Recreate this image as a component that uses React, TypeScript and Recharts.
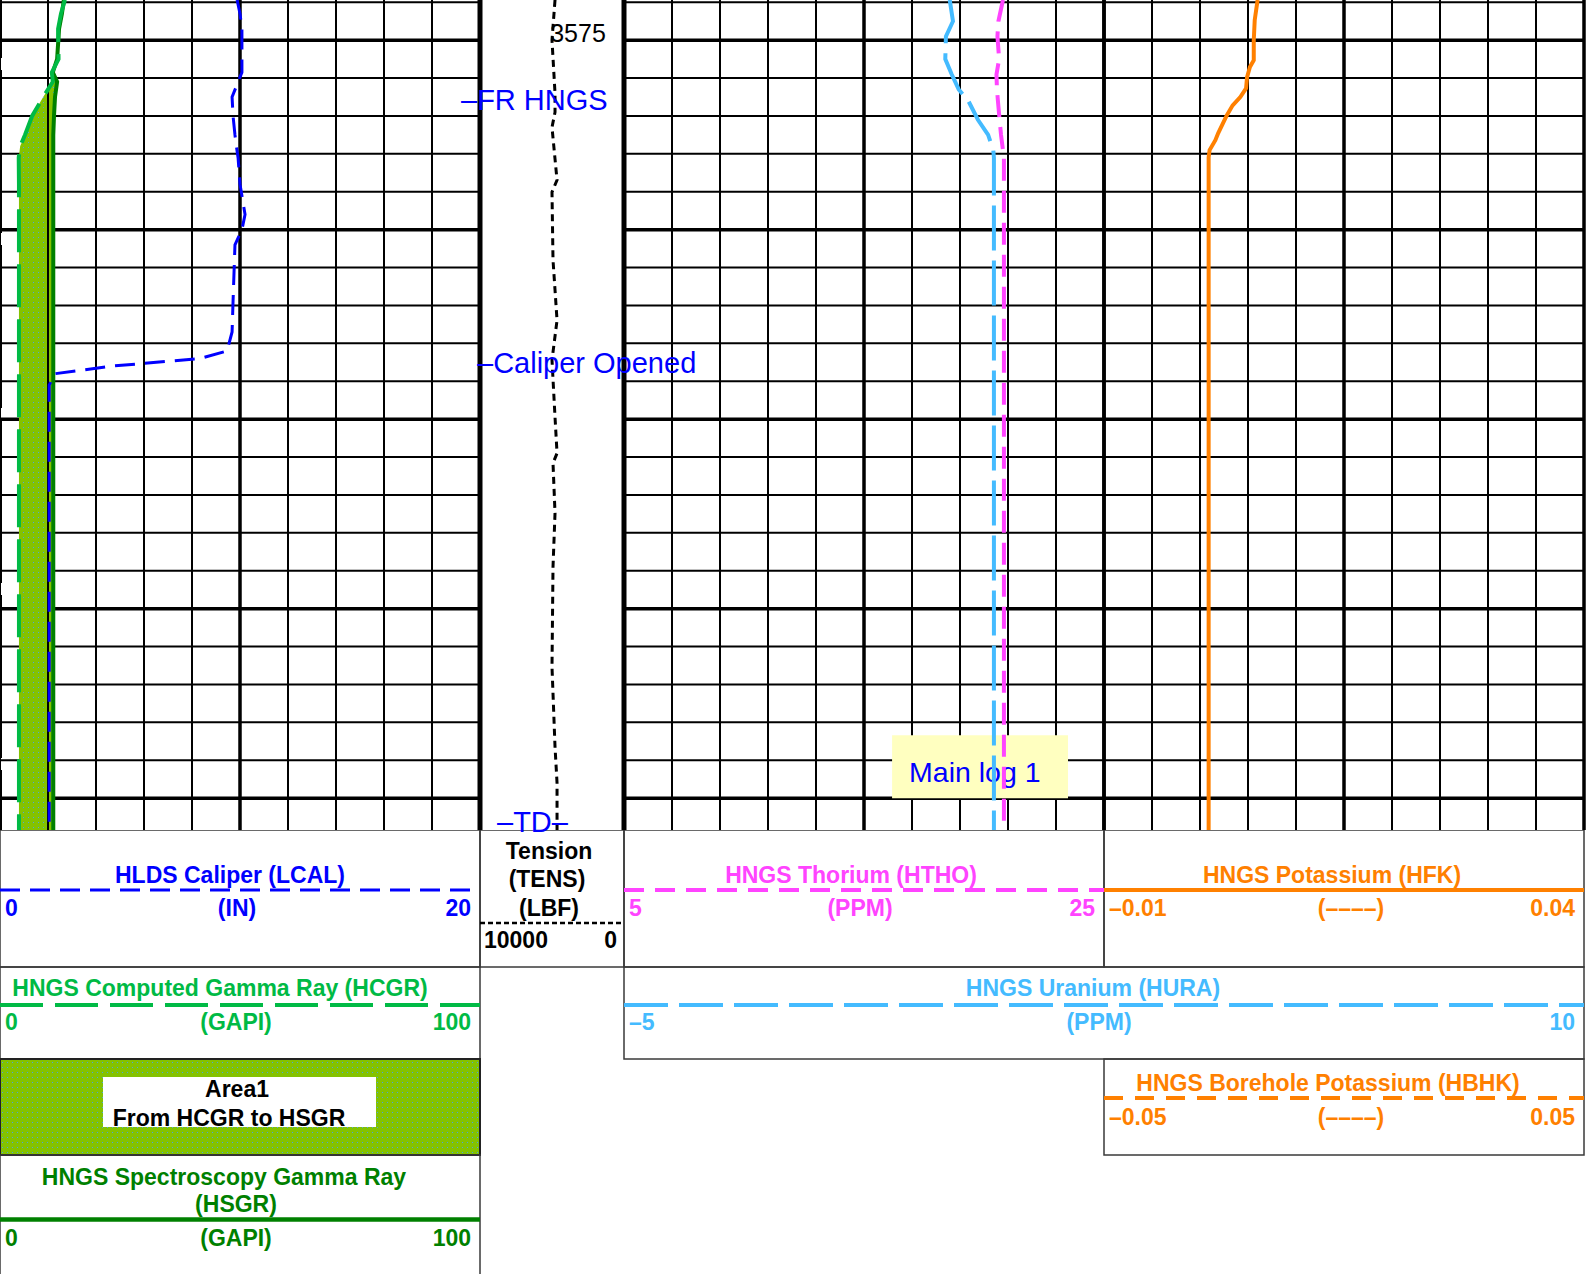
import { ComposedChart, Line, Area, XAxis, YAxis, CartesianGrid, ReferenceLine, ReferenceArea } from 'recharts'

// depth window of the log body (ft)
const depthTop = 3573.94
const depthBottom = 3595.84
const depthTicks = [3574, 3575, 3576, 3577, 3578, 3579, 3580, 3581, 3582, 3583, 3584, 3585, 3586, 3587, 3588, 3589, 3590, 3591, 3592, 3593, 3594, 3595]
const depthMajorTicks = [3575, 3580, 3585, 3590, 3595]
const depthLabels = [3575]

// curve scales (left, right) as printed in the header
const lcalScale = [0, 20]
const hcgrScale = [0, 100]
const hsgrScale = [0, 100]
const tensScale = [10000, 0]
const hthoScale = [5, 25]
const huraScale = [-5, 10]
const hfkScale = [-0.01, 0.04]
const hbhkScale = [-0.05, 0.05]

// vertical grid divisions per track
const track1Ticks = [0, 2, 4, 6, 8, 10, 12, 14, 16, 18, 20]
const track1Major = [10, 20]
const track2Ticks = [5, 7, 9, 11, 13, 15, 17, 19, 21, 23, 25]
const track2Major = [5, 15, 25]
const track3Ticks = [-0.01, -0.005, 0, 0.005, 0.01, 0.015, 0.02, 0.025, 0.03, 0.035, 0.04]
const track3Major = [-0.01, 0.015, 0.04]

// track 1: caliper and gamma rays
const track1Depth = [3573.94, 3574.3, 3574.7, 3575.5, 3575.85, 3576.1, 3576.5, 3577.0, 3577.5, 3577.8, 3578.1, 3578.8, 3579.6, 3580.0, 3580.4, 3581.9, 3582.7, 3583.2, 3583.4, 3583.6, 3583.8, 3584.1, 3595.84]
const lcal = [9.88, 10.0, 10.08, 10.08, 10.08, 9.92, 9.67, 9.71, 9.79, 9.85, 9.92, 10.0, 10.21, 10.08, 9.79, 9.71, 9.67, 9.46, 8.33, 4.67, 2.29, 2.05, 2.05]
const hcgr = [13.54, 12.7, 12.1, 12.2, 10.8, 11.0, 9.0, 6.7, 5.2, 4.2, 3.9, 3.95, 3.95, 3.95, 3.95, 3.95, 3.95, 3.95, 3.95, 3.95, 3.95, 3.95, 3.95]
const hsgr = [13.3, 12.9, 12.3, 11.9, 11.0, 11.9, 11.46, 11.25, 11.1, 11.1, 11.1, 11.1, 11.1, 11.1, 11.1, 11.1, 11.1, 11.1, 11.1, 11.1, 11.1, 11.1, 11.1]

// depth track: cable tension
const tensDepth = [3573.94, 3575.0, 3576.4, 3576.9, 3577.3, 3578.69, 3579.01, 3580.8, 3582.39, 3583.44, 3584.95, 3585.9, 3586.16, 3587.48, 3588.9, 3591.54, 3593.65, 3594.6, 3595.84]
const tens = [4790, 5000, 4790, 4790, 5000, 4650, 5000, 4930, 4650, 5000, 4790, 4650, 4930, 4790, 4930, 5000, 4790, 4650, 4650]

// track 2: thorium and uranium
const track2Depth = [3573.94, 3574.5, 3574.9, 3575.5, 3575.9, 3576.3, 3576.6, 3577.1, 3577.5, 3577.9, 3578.1, 3595.84]
const hura = [0.09, 0.14, 0.03, 0.02, 0.12, 0.23, 0.38, 0.53, 0.69, 0.77, 0.78, 0.78]
const htho = [20.79, 20.6, 20.56, 20.63, 20.52, 20.54, 20.58, 20.65, 20.71, 20.79, 20.83, 20.83]

// track 3: potassium
const track3Depth = [3573.94, 3574.47, 3575.0, 3575.53, 3575.71, 3575.98, 3576.27, 3576.5, 3576.72, 3576.98, 3577.24, 3577.45, 3577.64, 3577.9, 3578.09, 3595.84]
const hfk = [0.006, 0.0057, 0.0056, 0.0056, 0.0052, 0.0049, 0.0048, 0.0042, 0.0034, 0.0028, 0.0023, 0.0019, 0.0016, 0.001, 0.0009, 0.0009]

// depth annotations
const markerDepths = [3576.6, 3583.55, 3595.66]
const markerTexts = ['\u2013FR HNGS', '\u2013Caliper Opened', '\u2013TD\u2013']

// pass flag box (HTHO units across, depth down)
const mainLogX = [16.17, 23.5]
const mainLogDepth = [3593.34, 3595.0]
const mainLogText = 'Main log 1'

const PAD = 4
const PLOT_H = 830
const TRACK_W = 480
const DEPTH_W = 144
const FONT = '"Liberation Sans", Arial, Helvetica, sans-serif'
const BOX = '#3a3a3a'
const NO_UNIT = '(\u2013\u2013\u2013\u2013)'

const C = {
  lcal: '#0000ff',
  hcgr: '#00ba45',
  hsgr: '#008000',
  htho: '#ff44ff',
  hura: '#44bbff',
  hfk: '#ff8000',
  note: '#0000ff',
}

const fmt = (v: number) => String(v).replace('-', '\u2013')

const margin = { top: 0, right: PAD, bottom: 0, left: PAD }

const DotPattern = ({ id }: { id: string }) => (
  <pattern id={id} width={5} height={5} patternUnits="userSpaceOnUse">
    <rect width={5} height={5} fill="#84c200" />
    <rect x={2} y={2} width={1} height={1} fill="#4aa6e0" />
  </pattern>
)

function CaliperGammaTrack() {
  const data = track1Depth.map((depth, i) => ({
    depth,
    lcal: lcal[i],
    hcgr: hcgr[i],
    hsgr: hsgr[i],
    // shaded only where HCGR reads below HSGR
    area1: [Math.min(hcgr[i], hsgr[i]), hsgr[i]],
  }))
  return (
    <ComposedChart layout="vertical" width={TRACK_W + PAD * 2} height={PLOT_H} data={data} margin={margin}>
      <defs>
        <DotPattern id="area1Dots" />
      </defs>
      <XAxis xAxisId="in" type="number" domain={lcalScale} ticks={track1Ticks} interval={0} allowDataOverflow hide />
      <XAxis xAxisId="inMajor" type="number" domain={lcalScale} ticks={track1Major} interval={0} allowDataOverflow hide />
      <XAxis xAxisId="gapi" type="number" domain={hcgrScale} allowDataOverflow hide />
      <YAxis type="number" dataKey="depth" domain={[depthTop, depthBottom]} ticks={depthTicks} interval={0} allowDataOverflow hide />
      <YAxis yAxisId="major" type="number" dataKey="depth" domain={[depthTop, depthBottom]} ticks={depthMajorTicks} interval={0} allowDataOverflow hide />
      <CartesianGrid xAxisId="in" stroke="#000" strokeWidth={2} syncWithTicks />
      <CartesianGrid xAxisId="inMajor" yAxisId="major" stroke="#000" strokeWidth={3.5} syncWithTicks />
      <ReferenceLine xAxisId="in" x={0} stroke="#000" strokeWidth={4} strokeDasharray="163 12" strokeDashoffset={103} />
      <Area xAxisId="gapi" dataKey="area1" type="linear" stroke="none" fill="url(#area1Dots)" fillOpacity={1} dot={false} activeDot={false} isAnimationActive={false} />
      {/* first division line stays visible through the shading */}
      <ReferenceLine xAxisId="in" x={track1Ticks[1]} stroke="#000" strokeWidth={2} />
      <Line xAxisId="gapi" dataKey="hsgr" type="linear" stroke={C.hsgr} strokeWidth={4} dot={false} activeDot={false} isAnimationActive={false} />
      <Line xAxisId="gapi" dataKey="hcgr" type="linear" stroke={C.hcgr} strokeWidth={4} strokeDasharray="43 12" dot={false} activeDot={false} isAnimationActive={false} />
      <Line xAxisId="in" dataKey="lcal" type="linear" stroke={C.lcal} strokeWidth={3} strokeDasharray="20 10" dot={false} activeDot={false} isAnimationActive={false} />
    </ComposedChart>
  )
}

const depthNumber = (value: number) => (props: any) => {
  const vb = props.viewBox || {}
  return (
    <text x={vb.x + vb.width / 2 + 26} y={vb.y + 2} textAnchor="middle" fontFamily={FONT} fontSize={25} fill="#000">
      {value}
    </text>
  )
}

const markerOffsets = [-19, -3, 17]

const markerLabel = (text: string, dx: number) => (props: any) => {
  const vb = props.viewBox || {}
  return (
    <text x={vb.x + dx} y={vb.y + 9} fontFamily={FONT} fontSize={29} fill={C.note}>
      {text}
    </text>
  )
}

function DepthTrack() {
  const data = tensDepth.map((depth, i) => ({ depth, tens: tens[i] }))
  return (
    <ComposedChart layout="vertical" width={DEPTH_W + PAD * 2} height={PLOT_H} data={data} margin={margin}>
      <XAxis type="number" domain={[tensScale[1], tensScale[0]]} reversed ticks={tensScale} interval={0} allowDataOverflow hide />
      <YAxis type="number" dataKey="depth" domain={[depthTop, depthBottom]} allowDataOverflow hide />
      <CartesianGrid horizontal={false} stroke="#000" strokeWidth={5} syncWithTicks />
      <Line dataKey="tens" type="linear" stroke="#000" strokeWidth={3} strokeDasharray="7 5" dot={false} activeDot={false} isAnimationActive={false} />
      {depthLabels.map((d) => (
        <ReferenceLine key={`d${d}`} y={d} stroke="none" label={depthNumber(d)} />
      ))}
      {markerDepths.map((d, i) => (
        <ReferenceLine key={`m${i}`} y={d} stroke="none" label={markerLabel(markerTexts[i], markerOffsets[i])} />
      ))}
    </ComposedChart>
  )
}

const mainLogLabel = (props: any) => {
  const vb = props.viewBox || {}
  return (
    <text x={vb.x + 17} y={vb.y + 47} fontFamily={FONT} fontSize={28.5} fill={C.note}>
      {mainLogText}
    </text>
  )
}

function NuclearTrack() {
  const data = track2Depth.map((depth, i) => ({ depth, hura: hura[i], htho: htho[i] }))
  // HURA spans tracks 2 and 3; this track holds the left half of its scale
  const huraHalf = [huraScale[0], (huraScale[0] + huraScale[1]) / 2]
  return (
    <ComposedChart layout="vertical" width={TRACK_W + PAD * 2} height={PLOT_H} data={data} margin={margin}>
      <XAxis xAxisId="ppm" type="number" domain={hthoScale} ticks={track2Ticks} interval={0} allowDataOverflow hide />
      <XAxis xAxisId="ppmMajor" type="number" domain={hthoScale} ticks={track2Major} interval={0} allowDataOverflow hide />
      <XAxis xAxisId="hura" type="number" domain={huraHalf} allowDataOverflow hide />
      <YAxis type="number" dataKey="depth" domain={[depthTop, depthBottom]} ticks={depthTicks} interval={0} allowDataOverflow hide />
      <YAxis yAxisId="major" type="number" dataKey="depth" domain={[depthTop, depthBottom]} ticks={depthMajorTicks} interval={0} allowDataOverflow hide />
      <CartesianGrid xAxisId="ppm" stroke="#000" strokeWidth={2} syncWithTicks />
      <CartesianGrid xAxisId="ppmMajor" yAxisId="major" stroke="#000" strokeWidth={3.5} syncWithTicks />
      <ReferenceArea
        xAxisId="ppm"
        x1={mainLogX[0]}
        x2={mainLogX[1]}
        y1={mainLogDepth[0]}
        y2={mainLogDepth[1]}
        fill="#ffffc0"
        fillOpacity={1}
        stroke="none"
        label={mainLogLabel}
      />
      <Line xAxisId="hura" dataKey="hura" type="linear" stroke={C.hura} strokeWidth={4} strokeDasharray="45 10" dot={false} activeDot={false} isAnimationActive={false} />
      <Line xAxisId="ppm" dataKey="htho" type="linear" stroke={C.htho} strokeWidth={4} strokeDasharray="22 10" dot={false} activeDot={false} isAnimationActive={false} />
    </ComposedChart>
  )
}

function PotassiumTrack() {
  const data = track3Depth.map((depth, i) => ({ depth, hfk: hfk[i] }))
  return (
    <ComposedChart layout="vertical" width={TRACK_W + PAD * 2} height={PLOT_H} data={data} margin={margin}>
      <XAxis xAxisId="k" type="number" domain={hfkScale} ticks={track3Ticks} interval={0} allowDataOverflow hide />
      <XAxis xAxisId="kMajor" type="number" domain={hfkScale} ticks={track3Major} interval={0} allowDataOverflow hide />
      <YAxis type="number" dataKey="depth" domain={[depthTop, depthBottom]} ticks={depthTicks} interval={0} allowDataOverflow hide />
      <YAxis yAxisId="major" type="number" dataKey="depth" domain={[depthTop, depthBottom]} ticks={depthMajorTicks} interval={0} allowDataOverflow hide />
      <CartesianGrid xAxisId="k" stroke="#000" strokeWidth={2} syncWithTicks />
      <CartesianGrid xAxisId="kMajor" yAxisId="major" stroke="#000" strokeWidth={3.5} syncWithTicks />
      <Line xAxisId="k" dataKey="hfk" type="linear" stroke={C.hfk} strokeWidth={4} dot={false} activeDot={false} isAnimationActive={false} />
    </ComposedChart>
  )
}

type CaptionProps = { x: number; y: number; color: string; anchor?: 'start' | 'middle' | 'end'; children: any }

const Caption = ({ x, y, color, anchor = 'middle', children }: CaptionProps) => (
  <text x={x} y={y} fill={color} textAnchor={anchor} fontFamily={FONT} fontWeight="bold" fontSize={23}>
    {children}
  </text>
)

type ScaleProps = { x0: number; x1: number; mid: number; y: number; color: string; scale: number[]; unit: string }

const ScaleRow = ({ x0, x1, mid, y, color, scale, unit }: ScaleProps) => (
  <>
    <Caption x={x0 + 5} y={y} color={color} anchor="start">{fmt(scale[0])}</Caption>
    <Caption x={mid} y={y} color={color}>{unit}</Caption>
    <Caption x={x1 - 9} y={y} color={color} anchor="end">{fmt(scale[1])}</Caption>
  </>
)

function Header() {
  return (
    <svg width={1596} height={444} viewBox="0 830 1596 444" style={{ position: 'absolute', left: 0, top: 830 }}>
      <defs>
        <DotPattern id="area1DotsKey" />
      </defs>

      {/* row 1 */}
      <rect x={0} y={830} width={480} height={137} fill="none" stroke={BOX} strokeWidth={1.5} />
      <rect x={480} y={830} width={144} height={137} fill="none" stroke={BOX} strokeWidth={1.5} />
      <rect x={624} y={830} width={480} height={137} fill="none" stroke={BOX} strokeWidth={1.5} />
      <rect x={1104} y={830} width={480} height={137} fill="none" stroke={BOX} strokeWidth={1.5} />

      <line x1={0} x2={480} y1={890} y2={890} stroke={C.lcal} strokeWidth={3} strokeDasharray="20 10" />
      <Caption x={230} y={883} color={C.lcal}>HLDS Caliper (LCAL)</Caption>
      <ScaleRow x0={0} x1={480} mid={237} y={916} color={C.lcal} scale={lcalScale} unit="(IN)" />

      <Caption x={549} y={859} color="#000">Tension</Caption>
      <Caption x={547} y={887} color="#000">(TENS)</Caption>
      <Caption x={549} y={916} color="#000">(LBF)</Caption>
      <line x1={480} x2={624} y1={923} y2={923} stroke="#000" strokeWidth={2.5} strokeDasharray="5 3" />
      <Caption x={484} y={948} color="#000" anchor="start">{tensScale[0]}</Caption>
      <Caption x={617} y={948} color="#000" anchor="end">{tensScale[1]}</Caption>

      <line x1={624} x2={1104} y1={890} y2={890} stroke={C.htho} strokeWidth={4} strokeDasharray="20 11" />
      <Caption x={851} y={883} color={C.htho}>HNGS Thorium (HTHO)</Caption>
      <ScaleRow x0={624} x1={1104} mid={860} y={916} color={C.htho} scale={hthoScale} unit="(PPM)" />

      <line x1={1104} x2={1584} y1={890} y2={890} stroke={C.hfk} strokeWidth={4} />
      <Caption x={1332} y={883} color={C.hfk}>HNGS Potassium (HFK)</Caption>
      <ScaleRow x0={1104} x1={1584} mid={1351} y={916} color={C.hfk} scale={hfkScale} unit={NO_UNIT} />

      {/* row 2 */}
      <rect x={0} y={967} width={480} height={92} fill="none" stroke={BOX} strokeWidth={1.5} />
      <rect x={624} y={967} width={960} height={92} fill="none" stroke={BOX} strokeWidth={1.5} />

      <line x1={0} x2={480} y1={1005} y2={1005} stroke={C.hcgr} strokeWidth={4} strokeDasharray="43 12" />
      <Caption x={220} y={996} color={C.hcgr}>HNGS Computed Gamma Ray (HCGR)</Caption>
      <ScaleRow x0={0} x1={480} mid={236} y={1030} color={C.hcgr} scale={hcgrScale} unit="(GAPI)" />

      <line x1={624} x2={1584} y1={1005} y2={1005} stroke={C.hura} strokeWidth={4} strokeDasharray="44 11" />
      <Caption x={1093} y={996} color={C.hura}>HNGS Uranium (HURA)</Caption>
      <ScaleRow x0={624} x1={1584} mid={1099} y={1030} color={C.hura} scale={huraScale} unit="(PPM)" />

      {/* row 3 */}
      <rect x={0} y={1059} width={480} height={96} fill="url(#area1DotsKey)" stroke="#222" strokeWidth={2} />
      <rect x={103} y={1077} width={273} height={50} fill="#fff" />
      <Caption x={237} y={1097} color="#000">Area1</Caption>
      <Caption x={229} y={1126} color="#000">From HCGR to HSGR</Caption>

      <rect x={1104} y={1059} width={480} height={96} fill="none" stroke={BOX} strokeWidth={1.5} />
      <line x1={1104} x2={1584} y1={1098} y2={1098} stroke={C.hfk} strokeWidth={4} strokeDasharray="19 12" />
      <Caption x={1328} y={1091} color={C.hfk}>HNGS Borehole Potassium (HBHK)</Caption>
      <ScaleRow x0={1104} x1={1584} mid={1351} y={1125} color={C.hfk} scale={hbhkScale} unit={NO_UNIT} />

      {/* row 4 */}
      <rect x={0} y={1155} width={480} height={130} fill="none" stroke={BOX} strokeWidth={1.5} />
      <line x1={0} x2={480} y1={1219.5} y2={1219.5} stroke={C.hsgr} strokeWidth={4.5} />
      <Caption x={224} y={1185} color={C.hsgr}>HNGS Spectroscopy Gamma Ray</Caption>
      <Caption x={236} y={1212} color={C.hsgr}>(HSGR)</Caption>
      <ScaleRow x0={0} x1={480} mid={236} y={1246} color={C.hsgr} scale={hsgrScale} unit="(GAPI)" />
    </svg>
  )
}

export default function App() {
  return (
    <div style={{ position: 'absolute', left: 0, top: 0, width: 1596, height: 1274, background: '#fff', overflow: 'hidden', fontFamily: FONT }}>
      <style>{'.depth-track .recharts-surface { overflow: visible; }'}</style>
      <div style={{ position: 'absolute', left: -PAD, top: 0 }}>
        <CaliperGammaTrack />
      </div>
      <div style={{ position: 'absolute', left: 624 - PAD, top: 0 }}>
        <NuclearTrack />
      </div>
      <div style={{ position: 'absolute', left: 1104 - PAD, top: 0 }}>
        <PotassiumTrack />
      </div>
      <Header />
      <div className="depth-track" style={{ position: 'absolute', left: 480 - PAD, top: 0, zIndex: 2 }}>
        <DepthTrack />
      </div>
    </div>
  )
}
